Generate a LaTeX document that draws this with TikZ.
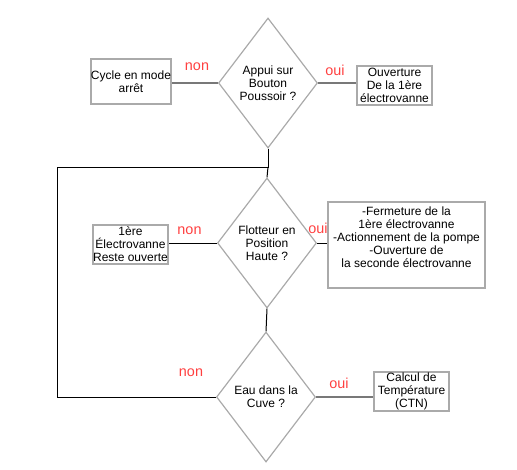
\documentclass[tikz,border=0pt]{standalone}
\usepackage{fontspec}
\setmainfont{Liberation Sans}
\usetikzlibrary{shapes.geometric}
\definecolor{boxgray}{RGB}{170,170,170}
\definecolor{linegray}{RGB}{120,120,120}
\definecolor{lblred}{RGB}{255,64,64}
\tikzset{
	action/.style={draw=boxgray, line width=0.9pt, rectangle, inner sep=0pt, align=center,
		minimum width=56.25pt, minimum height=29.25pt, font=\fontsize{9}{9.75}\selectfont},
	test/.style={draw=boxgray, line width=0.9pt, diamond, inner sep=0pt, align=center,
		minimum width=74.25pt, minimum height=97.5pt, font=\fontsize{9}{9.75}\selectfont},
	choix/.style={text=lblred, inner sep=0pt, font=\fontsize{10.8}{12}\selectfont},
	fil/.style={line width=1.5pt, color=linegray},
	retour/.style={line width=0.75pt, color=black}
}
\begin{document}
\begin{tikzpicture}[x=0.75pt, y=-0.75pt]
			%%%%% START %%%%%
			\useasboundingbox (0, 0) rectangle (517, 469);
			
			\node[test] (appui) at (268, 83) {Appui sur\\Bouton\\Poussoir ?};
			\node[action, minimum width=60pt, minimum height=33.75pt] (arret) at (131, 81.5) {Cycle en mode\\arrêt};
			\node[action] (ouverture) at (394.5, 85.5) {Ouverture\\De la 1ère\\électrovanne};
			
			\node[test] (flotteur) at (267, 243) {Flotteur en\\Position\\Haute ?};
			\node[action] (reste) at (130.5, 244.5) {1ère\\Électrovanne\\Reste ouverte};
			\node[action, minimum width=117.75pt, inner ysep=0pt, text height=48.75pt, text depth=15.75pt] (pompe) at (406.5, 245)
				{-Fermeture de la\\1ère électrovanne\\-Actionnement de la pompe\\-Ouverture de\\la seconde électrovanne};
			
			\node[test] (eau) at (266, 397) {Eau dans la\\Cuve ?};
			\node[action] (calcul) at (411.5, 391.5) {Calcul de\\Température\\(CTN)};
			
			\coordinate (jonction) at (268, 167);
			\coordinate (coinhaut) at (57, 167);
			\coordinate (coinbas) at (57, 397);
			
			\draw[fil] (appui.west) -- (appui.west -| arret.east);
			\draw[fil] (appui.east) -- (appui.east -| ouverture.west);
			\draw[retour] (appui.south) -- (jonction) -- (coinhaut) -- (coinbas) -- (eau.west);
			\draw[retour] (jonction) -- (flotteur.north);
			
			\draw[retour] (flotteur.west) -- (flotteur.west -| reste.east);
			\draw[retour] (flotteur.east) -- (flotteur.east -| pompe.west);
			\draw[retour] (flotteur.south) -- (eau.north);
			
			\draw[fil] (eau.east) -- (eau.east -| calcul.west);
			
			\node[choix] (non1) at (197, 66.5) {non};
			\node[choix] (oui1) at (335, 70.5) {oui};
			\node[choix] (non2) at (189.5, 231) {non};
			\node[choix] (oui2) at (318, 228.5) {oui};
			\node[choix] (non3) at (191, 372.5) {non};
			\node[choix] (oui3) at (339, 383.5) {oui};
			
			%%%%% END %%%%%
		\end{tikzpicture}
\end{document}
